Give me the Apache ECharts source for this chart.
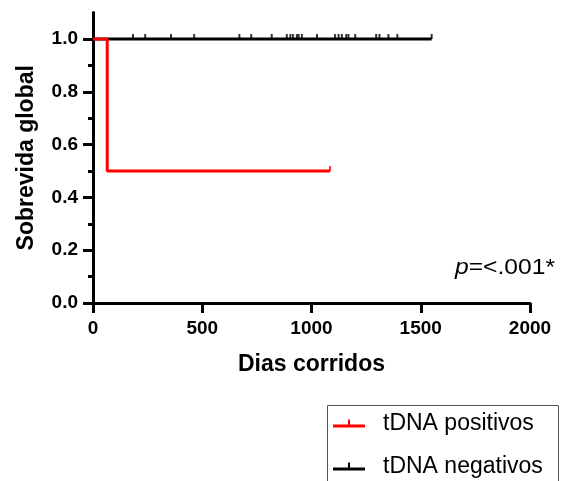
<!DOCTYPE html>
<html>
<head>
<meta charset="utf-8">
<script src="https://cdn.jsdelivr.net/npm/echarts@6/dist/echarts.min.js"></script>
<style>
  html, body { margin: 0; padding: 0; background: #fff; }
  #chart { width: 565px; height: 481px; }
</style>
</head>
<body>
<div id="chart"></div>
<script>
// curvas de sobrevida (dias, proporcao)
const posSurv = [[0, 1], [65, 0.5], [1085, 0.5]];
const negSurv = [[0, 1], [1550, 1]];
// censuras
const posCensor = [1085];
const negCensor = [183, 239, 357, 463, 670, 724, 818, 887, 903, 915, 933, 941, 956,
  1025, 1108, 1124, 1139, 1159, 1169, 1200, 1296, 1311, 1352, 1393, 1550];
const yMajor = [0, 0.2, 0.4, 0.6, 0.8, 1.0];
const yMinor = [0.1, 0.3, 0.5, 0.7, 0.9];
const seriesNames = ['tDNA positivos', 'tDNA negativos'];

const font = 'Liberation Sans, Arial, sans-serif';
const lineIcon = 'path://M0,5L32,5L32,8L0,8Z M15,0L17,0L17,5L15,5Z';

let option = {
  animation: false,
  grid: { left: 93, right: 35, top: 12.6, bottom: 178 },
  xAxis: {
    type: 'value', min: 0, max: 2000, interval: 500,
    name: 'Dias corridos', nameLocation: 'middle', nameGap: 50,
    nameTextStyle: { fontSize: 23, fontWeight: 'bold', color: '#000', fontFamily: font },
    axisLine: { lineStyle: { color: '#000', width: 3 } },
    axisTick: { length: 10, lineStyle: { color: '#000', width: 3 } },
    axisLabel: {
      margin: 16, fontSize: 19, fontWeight: 'bold', color: '#000', fontFamily: font,
      formatter: v => String(v)
    },
    splitLine: { show: false }
  },
  yAxis: [
    {
      type: 'value', min: 0, max: 1.1,
      name: 'Sobrevida global', nameLocation: 'middle', nameGap: 55,
      nameTextStyle: { fontSize: 23, fontWeight: 'bold', color: '#000', fontFamily: font },
      axisLine: { show: true, lineStyle: { color: '#000', width: 3 } },
      axisTick: { show: true, length: 10, customValues: yMajor, lineStyle: { color: '#000', width: 3 } },
      axisLabel: {
        margin: 15, fontSize: 19, fontWeight: 'bold', color: '#000', fontFamily: font,
        customValues: yMajor,
        formatter: v => v.toFixed(1)
      },
      splitLine: { show: false }
    },
    {
      type: 'value', min: 0, max: 1.1, position: 'left',
      axisLine: { show: false },
      axisTick: { show: true, length: 5, customValues: yMinor, lineStyle: { color: '#000', width: 3 } },
      axisLabel: { show: false },
      splitLine: { show: false }
    }
  ],
  legend: {
    orient: 'vertical', left: 333, top: 412,
    data: seriesNames,
    icon: lineIcon, itemWidth: 32, itemHeight: 8, itemGap: 20,
    padding: 0,
    textStyle: { fontSize: 23, color: '#000', fontFamily: font, lineHeight: 22, padding: [0, 0, 0, 13] }
  },
  graphic: [
    {
      type: 'rect',
      shape: { x: 327.5, y: 405.5, width: 231, height: 100 },
      style: { fill: 'none', stroke: '#555', lineWidth: 1 }
    },
    {
      type: 'text', x: 555, y: 268, scaleX: 1.12, originX: 0,
      style: {
        text: '{i|p}=<.001*',
        align: 'right', verticalAlign: 'middle',
        fontSize: 22, fontFamily: font, fill: '#000',
        rich: { i: { fontStyle: 'italic', fontSize: 22, fontFamily: font } }
      }
    }
  ],
  series: [
    {
      name: seriesNames[1], type: 'line', data: negSurv, showSymbol: false,
      lineStyle: { color: '#000', width: 3 }, itemStyle: { color: '#000' }
    },
    {
      name: 'cens-neg', type: 'scatter', data: negCensor.map(d => [d, 1]),
      symbol: 'rect', symbolSize: [2, 5], symbolOffset: [0, -2.5],
      itemStyle: { color: '#000' }
    },
    {
      name: seriesNames[0], type: 'line', step: 'end', data: posSurv, showSymbol: false,
      lineStyle: { color: '#ff0000', width: 3 }, itemStyle: { color: '#ff0000' }
    },
    {
      name: 'cens-pos', type: 'scatter', data: posCensor.map(d => [d, 0.5]),
      symbol: 'rect', symbolSize: [2, 5], symbolOffset: [0, -2.5],
      itemStyle: { color: '#ff0000' }
    }
  ]
};

const myChart = echarts.init(document.getElementById('chart'));
myChart.setOption(option);
</script>
</body>
</html>
